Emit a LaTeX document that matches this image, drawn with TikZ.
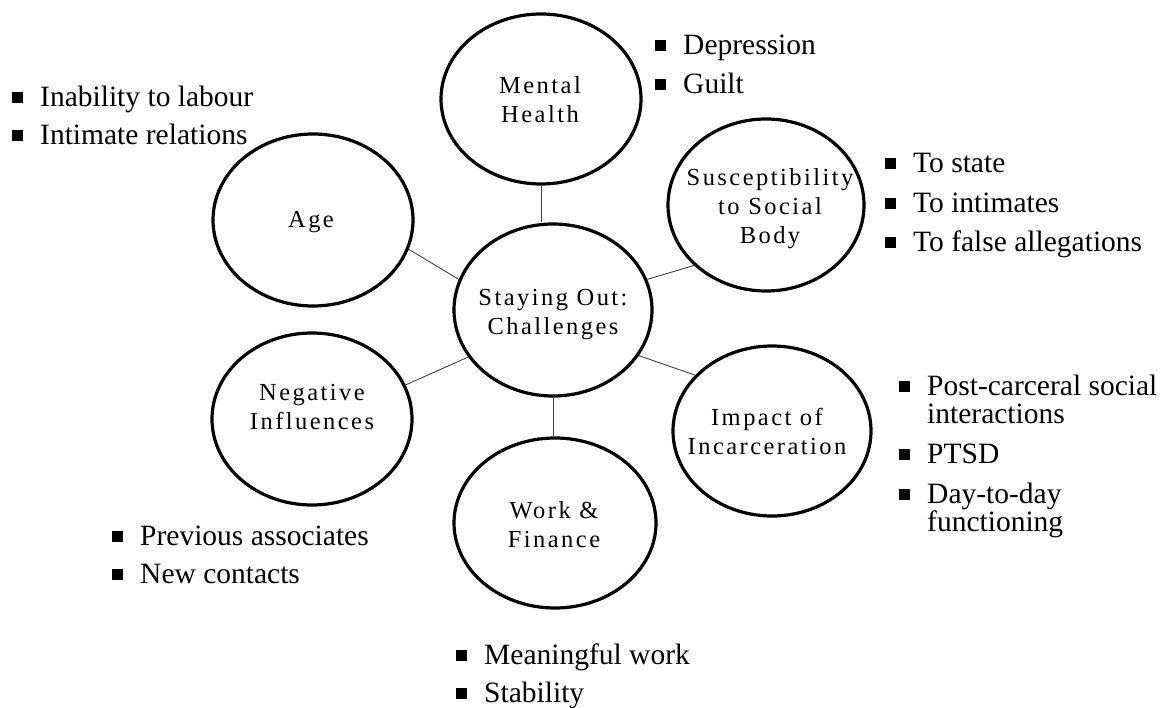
\documentclass[tikz,border=0pt]{standalone}
\usepackage{fontspec}
\setmainfont{Liberation Serif}
\newfontfamily\cfont[LetterSpace=10]{Liberation Serif}
\usetikzlibrary{shapes.geometric}
\newcommand{\bul}{\llap{\rule[3.5pt]{11pt}{11pt}\hspace{17pt}}}
\begin{document}
\begin{tikzpicture}[x=1pt,y=-1pt,
  circ/.style={ellipse, draw, line width=3.2pt, inner sep=0pt},
  ctext/.style={inner sep=0pt, align=center, font=\cfont\fontsize{24.5}{29}\selectfont},
  link/.style={line width=0.9pt, black!75},
  item/.style={anchor=base west, inner sep=0pt, font=\fontsize{29.5}{34}\selectfont}]
\useasboundingbox (0,0) rectangle (1161,708);

% circles
\node[circ, minimum width=198pt, minimum height=172pt] (c) at (553,310) {};
\node[circ, minimum width=200pt, minimum height=170pt] (mh) at (541,99) {};
\node[circ, minimum width=200pt, minimum height=172pt] (age) at (313,220) {};
\node[circ, minimum width=196pt, minimum height=172pt] (sus) at (766,205) {};
\node[circ, minimum width=200pt, minimum height=172pt] (neg) at (312,419) {};
\node[circ, minimum width=202pt, minimum height=170pt] (work) at (555,523) {};
\node[circ, minimum width=198pt, minimum height=170pt] (imp) at (772,431) {};

% circle labels
\node[ctext] (c-t) at (553,315) {Staying Out:\\Challenges};
\node[ctext] (mh-t) at (540,99.5) {Mental\\Health};
\node[ctext] (age-t) at (311,221.7) {Age};
\node[ctext] (sus-t) at (770,208.5) {Susceptibility\\to Social\\Body};
\node[ctext] (neg-t) at (312,406.7) {Negative\\Influences};
\node[ctext] (work-t) at (554,524.5) {Work \&\\Finance};
\node[ctext] (imp-t) at (767,431.5) {Impact of\\Incarceration};

% connectors
\draw[link] (mh.south) -- (mh.south |- c.north);
\draw[link] (c.south) -- (c.south |- work.north);
\draw[link] (age.-17.5) -- (c.162);
\draw[link] (c.18) -- (sus.-140.5);
\draw[link] (neg.20) -- (c.-151);
\draw[link] (c.-28) -- (imp.144);

% bullet lists
\node[item] (l-dep) at (683,55) {\bul Depression};
\node[item] (l-gui) at (683,94) {\bul Guilt};
\node[item] (l-ina) at (40,107) {\bul Inability to labour};
\node[item] (l-int) at (40,145) {\bul Intimate relations};
\node[item] (l-sta) at (913,173) {\bul To state};
\node[item] (l-inm) at (913,213) {\bul To intimates};
\node[item] (l-fal) at (913,252) {\bul To false allegations};
\node[item] (l-pos) at (927,395) {\bul Post-carceral social};
\node[item] (l-pos2) at (927,423) {interactions};
\node[item] (l-pts) at (927,463) {\bul PTSD};
\node[item] (l-day) at (927,503) {\bul Day-to-day};
\node[item] (l-day2) at (927,531) {functioning};
\node[item] (l-pre) at (140,545) {\bul Previous associates};
\node[item] (l-new) at (140,583) {\bul New contacts};
\node[item] (l-mea) at (484,664) {\bul Meaningful work};
\node[item] (l-stb) at (484,702) {\bul Stability};
\end{tikzpicture}
\end{document}
